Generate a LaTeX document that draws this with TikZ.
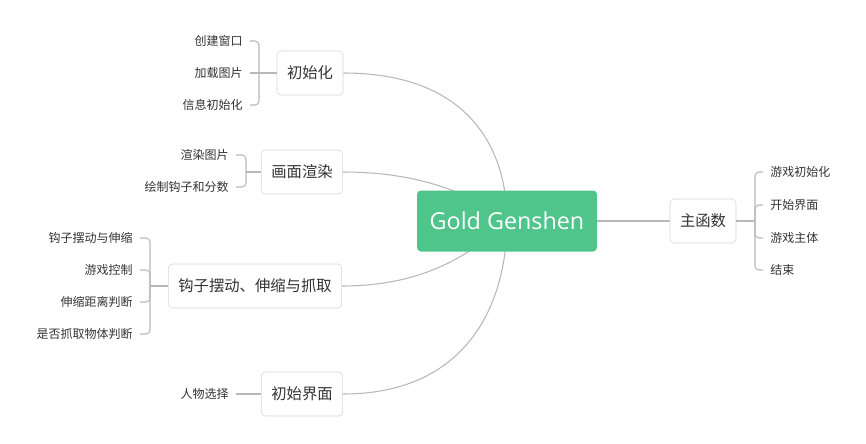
\documentclass[tikz,border=0pt]{standalone}
\usepackage{fontspec}
\setmainfont{Noto Sans CJK SC}
\newfontfamily\latinfont{Open Sans}
\usetikzlibrary{backgrounds}
\definecolor{topicgreen}{HTML}{4FC48B}
\definecolor{linegray}{HTML}{B8B8B8}
\definecolor{boxgray}{HTML}{D6D6D6}
\definecolor{textgray}{HTML}{333333}

\begin{document}
\begin{tikzpicture}[x=0.75pt,y=-0.75pt]
            \tikzstyle{root}=[fill=topicgreen, text=white, rounded corners=3pt, minimum width=135pt, minimum height=45.75pt, font=\latinfont\fontsize{17.5}{20}\selectfont];
            \tikzstyle{topic}=[draw=boxgray, fill=white, rounded corners=3pt, inner xsep=7.5pt, minimum height=33pt, text=textgray, font=\fontsize{11.5}{14}\selectfont];
            \tikzstyle{leaf}=[inner xsep=5.25pt, inner ysep=2pt, text=textgray, font=\fontsize{9}{11}\selectfont];
            \tikzstyle{link}=[draw=linegray, line width=0.8pt];
            \tikzstyle{brace}=[draw=linegray, line width=0.8pt, rounded corners=3pt];
            \useasboundingbox (0,0) rectangle (866,443);

            \node[root] (gold) at (507,221) {Gold Genshen};
            \node[topic] (init) at (310,73) {初始化};
            \node[topic] (render) at (302,172) {画面渲染};
            \node[topic] (hook) at (255,286) {钩子摆动、伸缩与抓取};
            \node[topic] (start) at (302,394) {初始界面};
            \node[topic] (mainfn) at (703,221) {主函数};

            % 初始化
            \node[leaf, anchor=east] (init1) at (250,41) {创建窗口};
            \node[leaf, anchor=east] (init2) at (250,73) {加载图片};
            \node[leaf, anchor=east] (init3) at (250,105) {信息初始化};
            \coordinate (initbr) at (259,73);
            \draw[brace] (init1.east) -| (initbr) |- (init3.east);
            \draw[link] (init2.east) -- (init.west);

            % 画面渲染
            \node[leaf, anchor=east] (render1) at (236,155) {渲染图片};
            \node[leaf, anchor=east] (render2) at (236,187) {绘制钩子和分数};
            \coordinate (renderbr) at (246,172);
            \draw[brace] (render1.east) -| (renderbr) |- (render2.east);
            \draw[link] (renderbr) -- (render.west);

            % 钩子
            \node[leaf, anchor=east] (hook1) at (140,238) {钩子摆动与伸缩};
            \node[leaf, anchor=east] (hook2) at (140,270) {游戏控制};
            \node[leaf, anchor=east] (hook3) at (140,302) {伸缩距离判断};
            \node[leaf, anchor=east] (hook4) at (140,334) {是否抓取物体判断};
            \coordinate (hookbr) at (150,286);
            \draw[brace] (hook1.east) -| (hookbr) |- (hook4.east);
            \draw[brace] (hook2.east) -| (hookbr);
            \draw[brace] (hook3.east) -| (hookbr);
            \draw[link] (hookbr) -- (hook.west);

            % 初始界面
            \node[leaf, anchor=east] (start1) at (236,394) {人物选择};
            \draw[link] (start1.east) -- (start.west);

            % 主函数
            \node[leaf, anchor=west] (mainfn1) at (763,172) {游戏初始化};
            \node[leaf, anchor=west] (mainfn2) at (763,205) {开始界面};
            \node[leaf, anchor=west] (mainfn3) at (763,238) {游戏主体};
            \node[leaf, anchor=west] (mainfn4) at (763,270) {结束};
            \coordinate (mainbr) at (755,221);
            \draw[brace] (mainfn1.west) -| (mainbr) |- (mainfn4.west);
            \draw[brace] (mainfn2.west) -| (mainbr);
            \draw[brace] (mainfn3.west) -| (mainbr);
            \draw[link] (mainfn.east) -- (mainbr);

            \begin{scope}[on background layer]
                \draw[link] (init.east) .. controls (470,73) and (507,150) .. (gold.center);
                \draw[link] (render.east) .. controls (430,172) and (480,200) .. (gold.center);
                \draw[link] (hook.east) .. controls (440,286) and (485,240) .. (gold.center);
                \draw[link] (start.east) .. controls (470,394) and (507,300) .. (gold.center);
                \draw[link] (gold.east) -- (mainfn.west);
            \end{scope}
        \end{tikzpicture}
\end{document}
